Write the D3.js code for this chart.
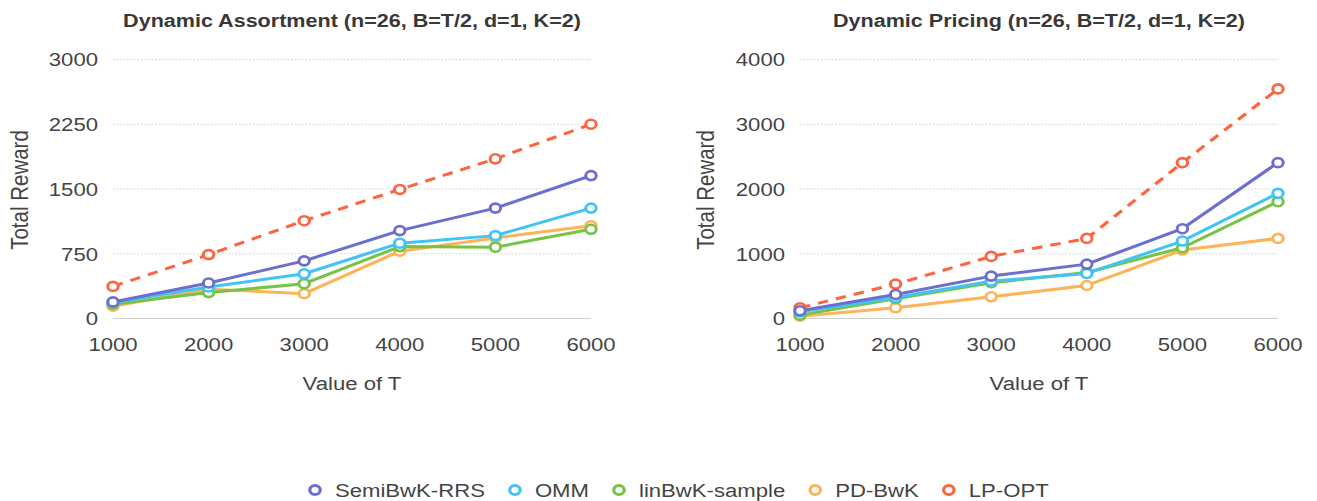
<!doctype html>
<html>
<head>
<meta charset="utf-8">
<script src="https://cdn.jsdelivr.net/npm/d3@7"></script>
<style>
  body { margin: 0; background: #fff; }
  svg { display: block; }
  text { font-family: "Liberation Sans", Arial, Helvetica, sans-serif; }
</style>
</head>
<body>
<svg id="chart"></svg>
<script>
// data
var tValues = [1000, 2000, 3000, 4000, 5000, 6000];
var seriesNames = ["SemiBwK-RRS", "OMM", "linBwK-sample", "PD-BwK", "LP-OPT"];
var seriesColors = ["#6d6fce", "#40c4f5", "#78c245", "#fdb357", "#fc6540"];

var assortSemi = [192, 411, 668, 1018, 1279, 1655];
var assortOMM  = [184, 365, 518, 872, 960, 1279];
var assortLin  = [165, 300, 403, 833, 826, 1033];
var assortPD   = [142, 340, 288, 780, 933, 1075];
var assortLP   = [372, 740, 1133, 1495, 1850, 2250];

var priceSemi = [119, 371, 655, 840, 1387, 2407];
var priceOMM  = [103, 325, 577, 696, 1196, 1933];
var priceLin  = [52, 304, 552, 711, 1093, 1804];
var pricePD   = [36, 165, 335, 510, 1057, 1237];
var priceLP   = [165, 531, 959, 1237, 2407, 3546];

var assortTicks = [0, 750, 1500, 2250, 3000];
var priceTicks = [0, 1000, 2000, 3000, 4000];

// the picture is stretched sideways, so draw in a narrower box and stretch it
var W = 1317, H = 501, sx = 1.165;
var VW = W / sx;

var svg = d3.select("#chart")
    .attr("width", W).attr("height", H)
    .attr("viewBox", "0 0 " + VW + " " + H)
    .attr("preserveAspectRatio", "none");

function drawPanel(opts) {
    var x = d3.scaleLinear().domain([1000, 6000]).range([opts.left, opts.right]);
    var y = d3.scaleLinear().domain([0, opts.ticks[opts.ticks.length - 1]]).range([318.5, 59.5]);
    var g = svg.append("g");

    // grid
    g.selectAll(".grid").data(opts.ticks).enter().append("line")
        .attr("x1", opts.left).attr("x2", opts.right)
        .attr("y1", function(d) { return y(d); })
        .attr("y2", function(d) { return y(d); })
        .attr("stroke", function(d) { return d == 0 ? "#cfcfcf" : "#d4d4d4"; })
        .attr("stroke-width", function(d) { return d == 0 ? 1.2 : 1; })
        .attr("stroke-dasharray", function(d) { return d == 0 ? null : "1.5,1.5"; });

    // y tick labels
    g.selectAll(".ylab").data(opts.ticks).enter().append("text")
        .attr("x", opts.left - 15 / sx)
        .attr("y", function(d) { return y(d) + 7; })
        .attr("text-anchor", "end")
        .attr("font-size", 19)
        .attr("fill", "#444")
        .text(function(d) { return d; });

    // x tick labels
    g.selectAll(".xlab").data(tValues).enter().append("text")
        .attr("x", function(d) { return x(d); })
        .attr("y", 351.5)
        .attr("text-anchor", "middle")
        .attr("font-size", 19)
        .attr("fill", "#444")
        .text(function(d) { return d; });

    g.append("text")
        .attr("x", (opts.left + opts.right) / 2)
        .attr("y", 390.5)
        .attr("text-anchor", "middle")
        .attr("font-size", 19)
        .attr("fill", "#444")
        .text("Value of T");

    g.append("text")
        .attr("transform", "translate(" + opts.ytitleX + ",190) rotate(-90)")
        .attr("text-anchor", "middle")
        .attr("font-size", 20.5)
        .attr("fill", "#444")
        .text("Total Reward");

    g.append("text")
        .attr("x", (opts.left + opts.right) / 2)
        .attr("y", 27)
        .attr("text-anchor", "middle")
        .attr("font-size", 18.5)
        .attr("font-weight", "bold")
        .attr("fill", "#383838")
        .text(opts.title);

    var line = d3.line()
        .x(function(d, i) { return x(tValues[i]); })
        .y(function(d) { return y(d); });

    // draw from the back series to the front one
    for (var k = opts.series.length - 1; k >= 0; k--) {
        var vals = opts.series[k];
        g.append("path")
            .attr("d", line(vals))
            .attr("fill", "none")
            .attr("stroke", seriesColors[k])
            .attr("stroke-width", 3)
            .attr("stroke-linejoin", "round")
            .attr("stroke-dasharray", k == 4 ? "9,7" : null);
        g.selectAll(".pt" + k).data(vals).enter().append("circle")
            .attr("cx", function(d, i) { return x(tValues[i]); })
            .attr("cy", function(d) { return y(d); })
            .attr("r", 4.5)
            .attr("fill", "#fff")
            .attr("stroke", seriesColors[k])
            .attr("stroke-width", 2.6);
    }
}

drawPanel({
    left: 113 / sx, right: 591 / sx, ytitleX: 28 / sx,
    ticks: assortTicks,
    title: "Dynamic Assortment (n=26, B=T/2, d=1, K=2)",
    series: [assortSemi, assortOMM, assortLin, assortPD, assortLP]
});

drawPanel({
    left: 800 / sx, right: 1278 / sx, ytitleX: 714 / sx,
    ticks: priceTicks,
    title: "Dynamic Pricing (n=26, B=T/2, d=1, K=2)",
    series: [priceSemi, priceOMM, priceLin, pricePD, priceLP]
});

// legend
var legend = svg.append("g");
var lx = 0;
seriesNames.forEach(function(name, i) {
    var item = legend.append("g").attr("transform", "translate(" + lx + ",0)");
    item.append("circle")
        .attr("cx", 0).attr("cy", 490).attr("r", 4.5)
        .attr("fill", "#fff")
        .attr("stroke", seriesColors[i])
        .attr("stroke-width", 2.8);
    var t = item.append("text")
        .attr("x", 20 / sx).attr("y", 497)
        .attr("font-size", 19)
        .attr("fill", "#444")
        .text(name);
    lx += 20 / sx + t.node().getComputedTextLength() + 30 / sx;
});
var legendW = lx - 30 / sx;
legend.attr("transform", "translate(" + (315 / sx) + ",0)");
</script>
</body>
</html>
